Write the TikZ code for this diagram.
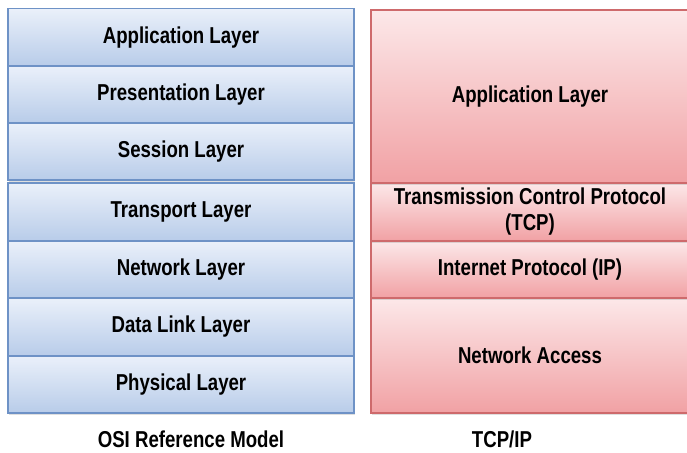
\documentclass[tikz,border=0pt]{standalone}
\usepackage{fontspec}
\setmainfont[FakeStretch=0.81]{Liberation Sans}
\usetikzlibrary{shadows}
\definecolor{bluetop}{HTML}{EAF0FA}
\definecolor{bluebot}{HTML}{B8CCE9}
\definecolor{blueline}{HTML}{6E92C6}
\definecolor{redtop}{HTML}{FCE8E9}
\definecolor{redbot}{HTML}{F1A1A4}
\definecolor{redline}{HTML}{CE6A6C}
\begin{document}
\begin{tikzpicture}[x=1pt,y=-1pt,
  lbl/.style={font=\fontsize{23}{26}\selectfont\bfseries, align=center, inner sep=0pt},
  layer/.style={lbl, line width=1.5pt, minimum height=#1,
    drop shadow={shadow xshift=1pt, shadow yshift=-1.5pt, opacity=0.25}},
  osi/.style={layer=#1, draw=blueline, top color=bluetop, bottom color=bluebot, minimum width=346pt},
  tcp/.style={layer=#1, draw=redline, top color=redtop, bottom color=redbot, minimum width=318pt}]
\useasboundingbox (0,0) rectangle (687,452);
\begin{scope}
\clip (0,0) rectangle (687,452);
% OSI column
\node[osi=57.5pt] (o7) at (181,37.25) {Application Layer};
\node[osi=57pt] (o6) at (181,94.5) {Presentation Layer};
\node[osi=57pt] (o5) at (181,151.5) {Session Layer};
\node[osi=58pt] (o4) at (181,212) {Transport Layer};
\node[osi=57pt] (o3) at (181,269.5) {Network Layer};
\node[osi=58pt] (o2) at (181,327) {Data Link Layer};
\node[osi=57pt] (o1) at (181,384.5) {Physical Layer};
% TCP/IP column
\node[tcp=115pt] (t4) at (530,355.5) {Network Access};
\node[tcp=57pt] (t3) at (530,269.5) {Internet Protocol (IP)};
\node[tcp=58pt] (t2) at (530,212) {Transmission Control Protocol\\(TCP)};
\node[tcp=173pt] (t1) at (530,96.5) {Application Layer};
\end{scope}
\node[lbl] (osilbl) at (191,439.5) {OSI Reference Model};
\node[lbl] (tcplbl) at (502,439.5) {TCP/IP};
\end{tikzpicture}
\end{document}
